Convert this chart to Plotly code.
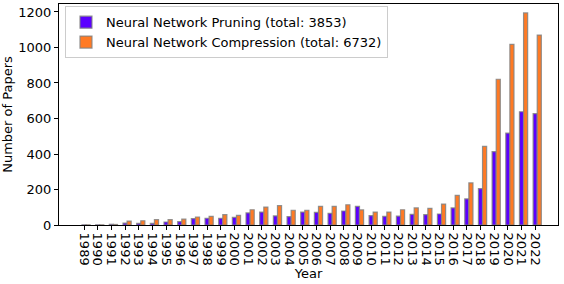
import plotly.graph_objects as go

years = list(range(1989, 2023))
pruning = [1, 1, 4, 11, 9, 9, 17, 19, 36, 38, 38, 43, 68, 73, 51, 47, 73, 71, 66, 79,
           105, 53, 49, 50, 60, 58, 62, 96, 147, 205, 413, 518, 638, 627]
compression = [1, 1, 3, 22, 24, 30, 30, 33, 45, 49, 58, 54, 86, 101, 109, 83, 83, 105, 105, 114,
               85, 73, 73, 86, 96, 94, 118, 167, 237, 443, 821, 1018, 1195, 1070]
labels = ["Neural Network Pruning (total: 3853)", "Neural Network Compression (total: 6732)"]
colors = ["#5b00ff", "#ff7a24"]
y_ticks = [0, 200, 400, 600, 800, 1000, 1200]

font = "DejaVu Sans"
fig = go.Figure()
for vals, name, col, off in [(pruning, labels[0], colors[0], -0.15), (compression, labels[1], colors[1], 0.15)]:
    fig.add_trace(go.Bar(
        x=years, y=vals, name=name, width=0.3, offset=off,
        marker=dict(color=col, line=dict(color="rgba(130,130,130,0.85)", width=1.2)),
    ))

fig.update_layout(
    width=564, height=284, barmode="overlay",
    margin=dict(l=59, r=6, t=4, b=59, autoexpand=False),
    plot_bgcolor="white", paper_bgcolor="white",
    font=dict(family=font, size=13, color="black"),
    legend=dict(x=0.012, y=0.99, xanchor="left", yanchor="top",
                bgcolor="rgba(255,255,255,0.8)", bordercolor="#cccccc", borderwidth=1,
                font=dict(size=13), tracegroupgap=0),
    showlegend=True,
)
fig.update_xaxes(
    range=[1987.17, 2023.67], tickmode="array", tickvals=years, ticktext=[str(y) for y in years],
    tickangle=90, ticks="outside", ticklen=4, tickcolor="black",
    showline=True, linecolor="black", linewidth=1, mirror=True, showgrid=False, zeroline=False,
    automargin=False,
    title=dict(text="Year", standoff=2, font=dict(size=13)),
)
fig.update_yaxes(
    range=[0, 1245], tickmode="array", tickvals=y_ticks,
    ticks="outside", ticklen=4, tickcolor="black",
    showline=True, linecolor="black", linewidth=1, mirror=True, showgrid=False, zeroline=False,
    automargin=False,
    title=dict(text="Number of Papers", standoff=4, font=dict(size=13)),
)
fig.write_html("out.html", config={"displayModeBar": False},
               post_script="document.body.style.margin='0';")
